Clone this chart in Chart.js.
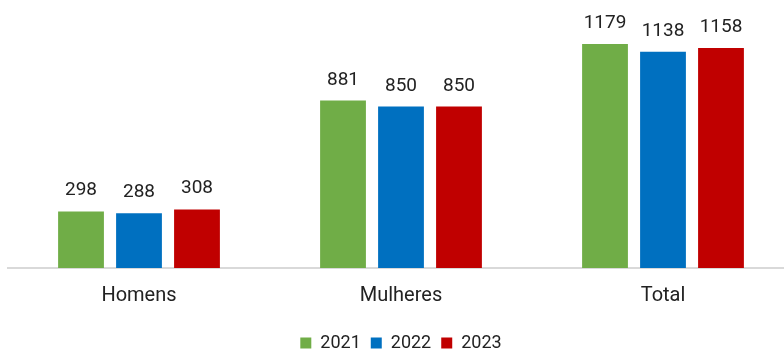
<!DOCTYPE html>
<html>
<head>
<meta charset="utf-8">
<script src="https://cdn.jsdelivr.net/npm/chart.js@4/dist/chart.umd.min.js"></script>
<style>
  html, body { margin: 0; padding: 0; background: #fff; overflow: hidden; }
  #wrap { width: 796px; height: 362px; }
</style>
</head>
<body>
<div id="wrap"><canvas id="grafico"></canvas></div>
<script>
// categorias e valores por ano
const categorias = ["Homens", "Mulheres", "Total"];
const anos = ["2021", "2022", "2023"];
const valores2021 = [298, 881, 1179];
const valores2022 = [288, 850, 1138];
const valores2023 = [308, 850, 1158];
const cores = ["#70AD47", "#0070C0", "#C00000"];

const fonte = "Roboto, 'Noto Sans', sans-serif";

// escreve o valor em cima de cada barra
const rotulosValores = {
  id: "rotulosValores",
  afterDatasetsDraw(chart) {
    const ctx = chart.ctx;
    ctx.save();
    ctx.font = "19px " + fonte;
    ctx.fillStyle = "#222";
    ctx.textAlign = "center";
    ctx.textBaseline = "alphabetic";
    chart.data.datasets.forEach((ds, i) => {
      chart.getDatasetMeta(i).data.forEach((bar, j) => {
        ctx.fillText(ds.data[j], bar.x, bar.y - 16);
      });
    });
    ctx.restore();
  }
};

const series = [valores2021, valores2022, valores2023];

new Chart(document.getElementById("grafico"), {
  type: "bar",
  data: {
    labels: categorias,
    datasets: series.map((v, i) => ({
      label: anos[i],
      data: v,
      backgroundColor: cores[i],
      categoryPercentage: 0.664,
      barPercentage: 0.79
    }))
  },
  options: {
    responsive: true,
    maintainAspectRatio: false,
    animation: false,
    layout: { padding: { left: 8, right: 2, top: 2, bottom: 0 } },
    plugins: {
      legend: {
        position: "bottom",
        labels: {
          boxWidth: 11,
          boxHeight: 11,
          padding: 10,
          color: "#222",
          font: { family: fonte, size: 18 }
        }
      },
      tooltip: { enabled: false }
    },
    scales: {
      x: {
        grid: { display: false },
        border: { display: true, color: "#d9d9d9", width: 2 },
        ticks: { color: "#222", padding: 8, font: { family: fonte, size: 20 } },
        // espaço extra entre os rótulos do eixo e a legenda
        afterFit(scale) { scale.height += 8; }
      },
      y: {
        display: false,
        min: 0,
        max: 1400
      }
    }
  },
  plugins: [rotulosValores]
});
</script>
</body>
</html>
